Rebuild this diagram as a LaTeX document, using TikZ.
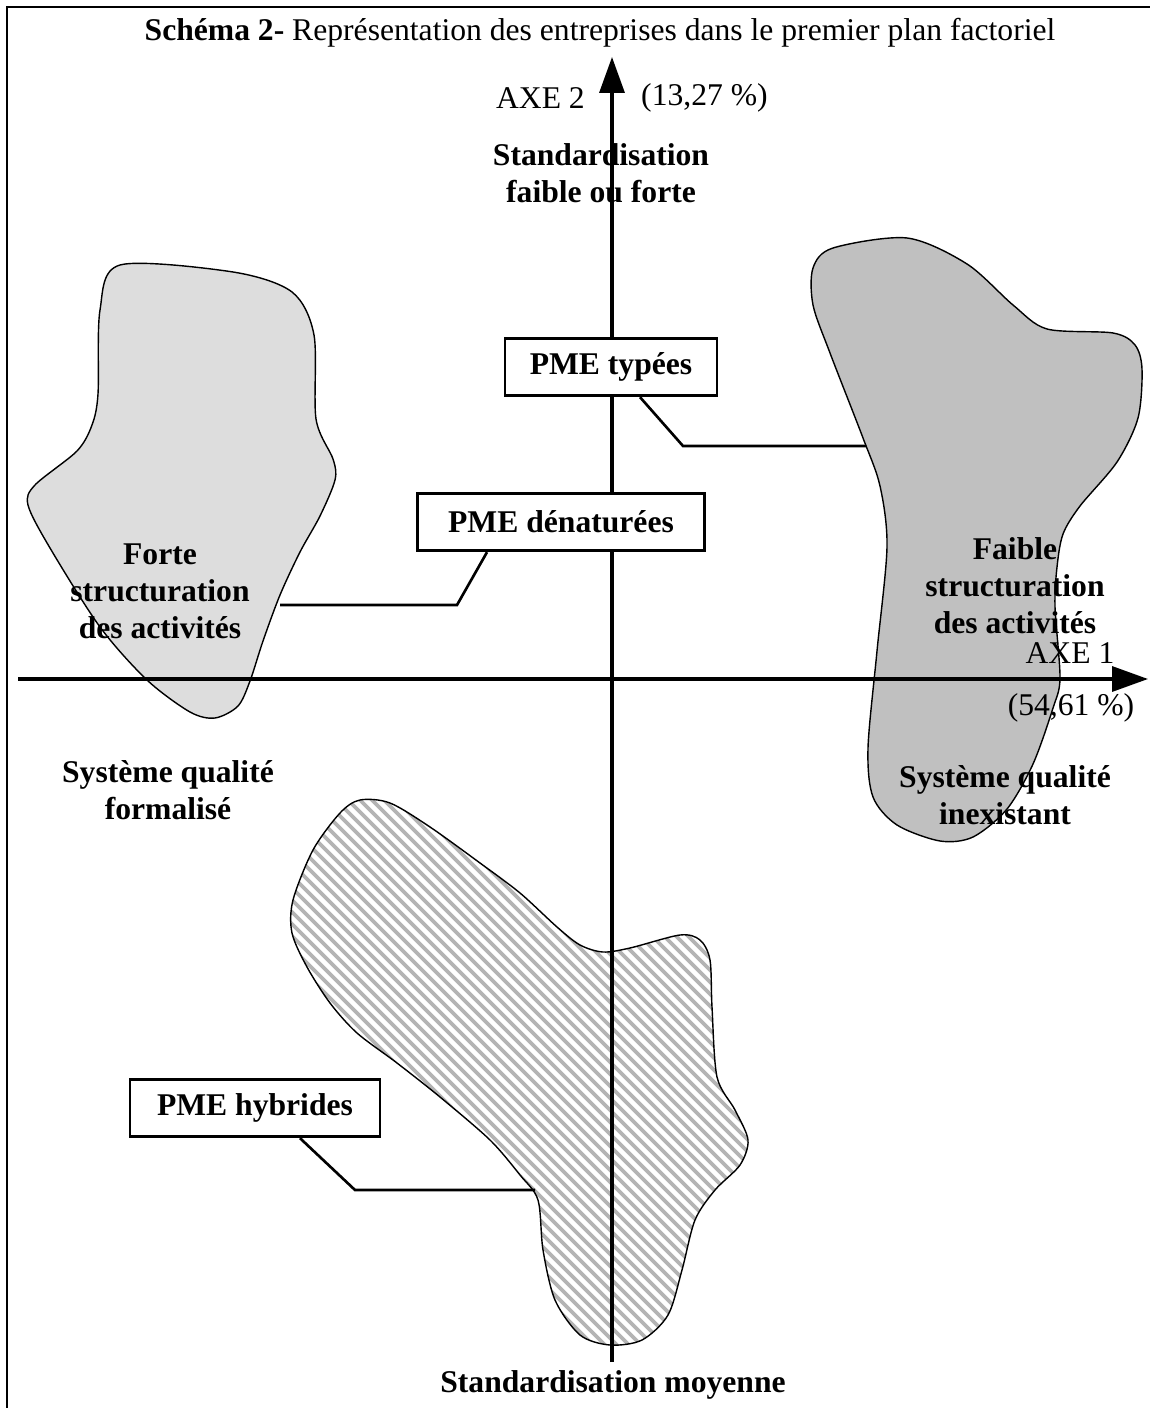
\documentclass[tikz,border=0pt]{standalone}
\usepackage{fontspec}
\setmainfont{Liberation Serif}
\usetikzlibrary{arrows.meta}

\newcommand{\grand}{\fontsize{18}{21}\selectfont}
\definecolor{grisclair}{HTML}{DDDDDD}
\definecolor{grisfonce}{HTML}{C0C0C0}
\definecolor{grishachure}{HTML}{B4B4B4}

\tikzset{
  axe/.style={line width=1.9pt, -{Triangle[length=0.72cm,width=0.5cm]}},
  pmebox/.style={draw, line width=1.6pt, fill=white, font=\grand\bfseries, minimum height=1.15cm, inner sep=0pt},
  lien/.style={line width=1.5pt},
  zone/.style={draw, line width=0.8pt},
  lbl/.style={font=\grand\bfseries, align=center},
  hachure/.style={line width=2.1pt, grishachure},
}

\begin{document}
\begin{tikzpicture}[x=0.02cm, y=-0.02cm, every node/.append style={font=\grand}]
  \useasboundingbox (0,0) rectangle (1150,1408);

  % cadre
  \draw[line width=1.1pt] (7,1408) -- (7,7) -- (1150,7);

  \node (titre) at (600,33) {\textbf{Schéma 2-} Représentation des entreprises dans le premier plan factoriel};

  % zones
  \draw[zone, fill=grisclair] plot[smooth cycle] coordinates {
    (120,265) (233,272) (292,292) (314,335) (316,419) (333,459) (335,480)
    (320,516) (300,552) (280,595) (263,641) (250,681) (238,706) (215,718)
    (190,712) (147,680) (100,627) (50,548) (28,505) (35,485) (77,451)
    (92,425) (98,394) (100,310)};

  \draw[zone, fill=grisfonce] plot[smooth cycle] coordinates {
    (813,268) (833,248) (907,238) (967,264) (1013,305) (1047,329) (1113,333)
    (1135,345) (1142,369) (1138,418) (1117,462) (1080,506) (1063,534)
    (1057,567) (1055,607) (1060,678) (1053,708) (1033,764) (1007,809)
    (973,837) (940,841) (897,825) (873,797) (868,748) (877,651) (887,547)
    (880,486) (863,438) (830,353) (813,305)};

  \draw[zone, path picture={
      \foreach \c in {-500,-488,...,800}
        \draw[hachure] (\c,780) -- ++(600,600);
    }] plot[smooth cycle] coordinates {
    (360,800) (390,803) (430,827) (480,863) (520,893) (557,927) (580,945)
    (603,952) (630,948) (680,935) (700,940) (710,960) (712,1007) (717,1077)
    (735,1110) (748,1140) (740,1165) (715,1190) (695,1220) (682,1270)
    (668,1315) (642,1340) (610,1345) (580,1335) (555,1300) (543,1250)
    (538,1200) (520,1175) (490,1140) (440,1097) (397,1063) (357,1033)
    (330,1003) (307,967) (292,933) (293,900) (313,850) (340,813)};

  % axes
  \coordinate (a2b) at (612,1362);
  \coordinate (a2h) at (612,57);
  \coordinate (a1g) at (18,679);
  \coordinate (a1d) at (1148,679);
  \draw[axe] (a2b) -- (a2h);
  \draw[axe] (a1g) -- (a1d);

  \node[anchor=east] (axe2) at (591,98) {AXE 2};
  \node[anchor=west] (pct2) at (635,98) {(13,27 \%)};
  \node (axe1) at (1070,653) {AXE 1};
  \node (pct1) at (1071,708) {(54,61 \%)};

  % textes des poles
  \node[lbl] (stdh) at (601,173) {Standardisation\\faible ou forte};
  \node[lbl] (stdb) at (613,1385) {Standardisation moyenne};
  \node[lbl] (forte) at (160,591) {Forte\\structuration\\des activités};
  \node[lbl] (sqf) at (168,790) {Système qualité\\formalisé};
  \node[lbl] (faible) at (1015,586) {Faible\\structuration\\des activités};
  \node[lbl] (sqi) at (1005,795) {Système qualité\\inexistant};

  % groupes
  \node[pmebox, minimum width=4.24cm] (typ) at (611,367) {PME typées};
  \coordinate (typ-coude) at (683,446);
  \coordinate (typ-fin) at (866,446);
  \draw[lien] ([xshift=0.58cm]typ.south) -- (typ-coude) -- (typ-fin);

  \node[pmebox, minimum width=5.74cm] (den) at (561,522) {PME dénaturées};
  \coordinate (den-coude) at (457,605);
  \coordinate (den-fin) at (280,605);
  \draw[lien] ([xshift=-1.48cm]den.south) -- (den-coude) -- (den-fin);

  \node[pmebox, minimum width=5cm] (hyb) at (255,1108) {PME hybrides};
  \coordinate (hyb-coude) at (355,1190);
  \coordinate (hyb-fin) at (535,1190);
  \draw[lien] ([xshift=0.9cm]hyb.south) -- (hyb-coude) -- (hyb-fin);

\end{tikzpicture}
\end{document}
